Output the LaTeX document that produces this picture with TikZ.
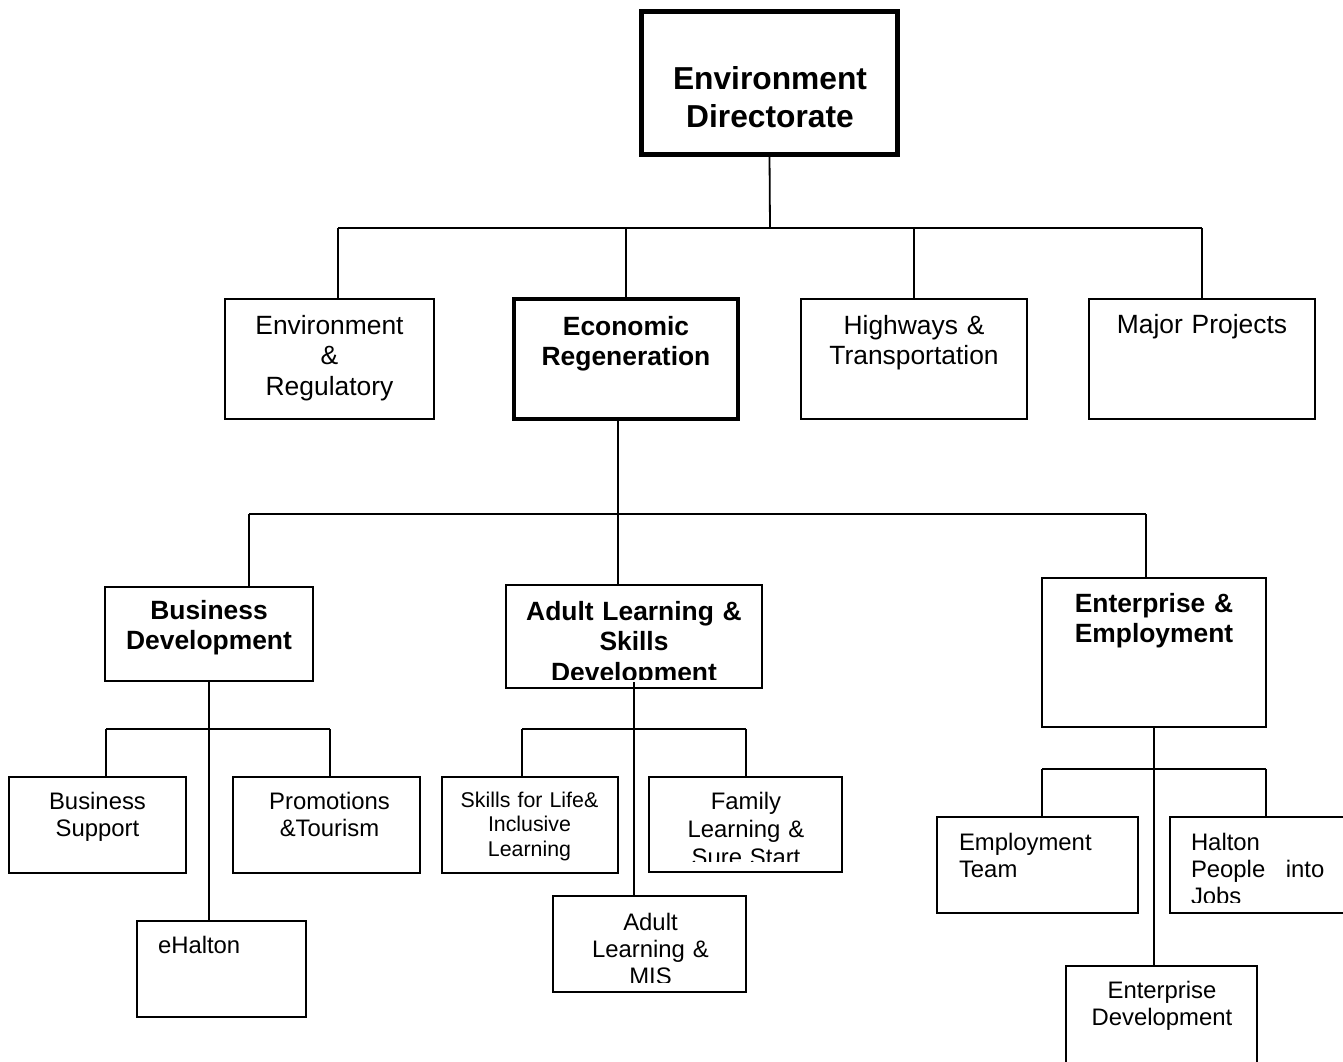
\documentclass[tikz,border=0pt]{standalone}
\usepackage{fontspec}
\setmainfont{Liberation Sans}
\newcommand\mybox[6][box]{\node[#1, minimum width={(#4-#2)*0.75pt}, minimum height={(#5-#3)*0.75pt}] (#6) at ({(#2+#4)/2},{(#3+#5)/2}) {};}
\tikzset{
  box/.style={draw, line width=1.35pt, rectangle, inner sep=0pt, outer sep=0pt},
  topbox/.style={box, line width=3.9pt},
  econbox/.style={box, line width=3.1pt},
  link/.style={line width=1.35pt},
  txt/.style={inner sep=0pt, outer sep=0pt, anchor=base, align=center, text width=180pt},
  ltxt/.style={inner sep=0pt, outer sep=0pt, anchor=base west, align=left, text width=100pt},
  ftop/.style={font=\fontsize{23.8pt}{28.5pt}\selectfont\bfseries},
  fmid/.style={font=\fontsize{19.8pt}{22.9pt}\selectfont},
  fmidb/.style={font=\fontsize{19.8pt}{22.9pt}\selectfont\bfseries},
  flow/.style={font=\fontsize{17.9pt}{20.6pt}\selectfont},
  flowb/.style={font=\fontsize{17.9pt}{21pt}\selectfont},
  fsmall/.style={font=\fontsize{16pt}{18.4pt}\selectfont},
}
\begin{document}
\begin{tikzpicture}[x=0.75pt, y=-0.75pt]
\clip (0,0) rectangle (1343,1061);
\fill[white] (0,0) rectangle (1343,1061);

% boxes
\mybox[topbox]{641.5}{11.5}{897.5}{154.5}{top}
\mybox{225}{299}{434}{419}{envreg}
\mybox[econbox]{514}{299}{738}{419}{econ}
\mybox{801}{299}{1027}{419}{hw}
\mybox{1089}{299}{1315}{419}{maj}
\mybox{105}{587}{313}{681}{busdev}
\mybox{506}{585}{762}{688}{adult}
\mybox{1042}{578}{1266}{727}{ent}
\mybox{9}{777}{186}{873}{bsup}
\mybox{233}{777}{420}{873}{promo}
\mybox{137}{921}{306}{1017}{ehal}
\mybox{442}{777}{618}{873}{skills}
\mybox{649}{777}{842}{872}{family}
\mybox{553}{896}{746}{992}{mis}
\mybox{937}{817}{1138}{913}{empteam}
\mybox{1170}{817}{1370}{913}{halton}
\mybox{1066}{966}{1257}{1090}{entdev}

% texts
\node[txt, ftop] (topT) at (770,89) {Environment\\Directorate};
\node[txt, fmid] (envregT) at (329.5,334) {Environment\\\&\\Regulatory};
\node[txt, fmidb] (econT) at (626,335) {Economic\\Regeneration};
\node[txt, fmid] (hwT) at (914,334) {Highways \&\\Transportation};
\node[txt, fmid] (majT) at (1202,333) {Major Projects};
\node[txt, fmidb] (busdevT) at (209,619) {Business\\Development};
\begin{scope}
  \clip (adult.north west) rectangle ([yshift=6.5pt]adult.south east);
  \node[txt, fmidb] (adultT) at (634,620) {Adult Learning \&\\Skills\\Development};
\end{scope}
\node[txt, fmidb] (entT) at (1154,612) {Enterprise \&\\Employment};
\node[txt, flow] (bsupT) at (97.5,809) {Business\\Support};
\node[txt, flow] (promoT) at (329.5,809) {Promotions\\\&Tourism};
\node[ltxt, flow] (ehalT) at (158,953) {eHalton};
\node[txt, fsmall] (skillsT) at (529.5,807) {Skills for Life\&\\Inclusive\\Learning};
\begin{scope}
  \clip (family.north west) rectangle ([yshift=7.8pt]family.south east);
  \node[txt, flowb] (familyT) at (746,809) {Family\\Learning \&\\Sure Start};
\end{scope}
\begin{scope}
  \clip (mis.north west) rectangle ([yshift=6.8pt]mis.south east);
  \node[txt, flow] (misT) at (650.5,930) {Adult\\Learning \&\\MIS};
\end{scope}
\node[ltxt, flow] (empT) at (959,850) {Employment\\Team};
\begin{scope}
  \clip (halton.north west) rectangle ([yshift=8pt]halton.south east);
  \node[ltxt, flow] (haltonT) at (1191,850) {Halton\\People\hfill into\\Jobs};
\end{scope}
\node[txt, flow] (entdevT) at (1162,998) {Enterprise\\Development};

% level 1 -> 2
\coordinate (j1) at (770,228);
\coordinate (j1a) at (338,228);
\coordinate (j1d) at (1202,228);
\draw[link] (top.south) -- (j1);
\draw[link] (j1a) -- (j1d);
\draw[link] (j1a) -- (j1a |- envreg.north);
\draw[link] (econ.north |- j1) -- (econ.north);
\draw[link] (hw.north |- j1) -- (hw.north);
\draw[link] (j1d) -- (j1d |- maj.north);

% level 2 -> 3
\coordinate (j2) at (618,514);
\coordinate (j2a) at (249,514);
\coordinate (j2c) at (1146,514);
\draw[link] (j2 |- econ.south) -- (j2) -- (j2 |- adult.north);
\draw[link] (j2a) -- (j2c);
\draw[link] (j2a) -- (j2a |- busdev.north);
\draw[link] (j2c) -- (j2c |- ent.north);

% business development
\coordinate (j3a) at (106,729);
\coordinate (j3b) at (330,729);
\draw[link] (busdev.south) -- (busdev.south |- ehal.north);
\draw[link] (j3a) -- (j3b);
\draw[link] (j3a) -- (j3a |- bsup.north);
\draw[link] (j3b) -- (j3b |- promo.north);

% adult learning
\coordinate (j4a) at (522,729);
\coordinate (j4b) at (746,729);
\draw[link] ([yshift=4.5pt]adult.south) -- (adult.south |- mis.north);
\draw[link] (j4a) -- (j4b);
\draw[link] (j4a) -- (j4a |- skills.north);
\draw[link] (j4b) -- (j4b |- family.north);

% enterprise
\coordinate (j5a) at (1042,769);
\coordinate (j5b) at (1266,769);
\draw[link] (ent.south) -- (ent.south |- entdev.north);
\draw[link] (j5a) -- (j5b);
\draw[link] (j5a) -- (j5a |- empteam.north);
\draw[link] (j5b) -- (j5b |- halton.north);
\end{tikzpicture}
\end{document}
